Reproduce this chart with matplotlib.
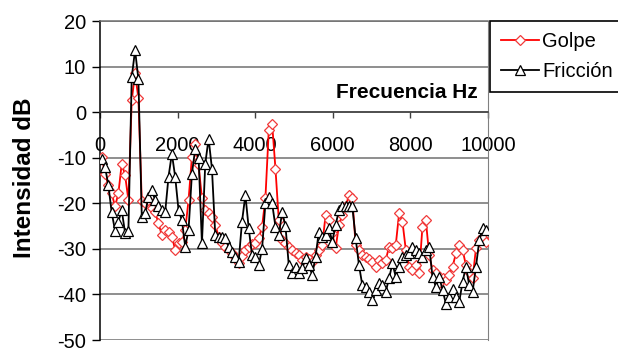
import matplotlib
matplotlib.use("Agg")
import matplotlib.pyplot as plt

plt.rcParams['font.family'] = ['Liberation Sans', 'DejaVu Sans']

freq_hz = [43, 129, 215, 301, 388, 474, 560, 646, 732, 818, 904, 990, 1077, 1163,
           1249, 1335, 1421, 1507, 1593, 1680, 1766, 1852, 1938, 2024, 2110, 2196,
           2282, 2369, 2455, 2541, 2627, 2713, 2799, 2885, 2971, 3058, 3144, 3230,
           3316, 3402, 3488, 3574, 3660, 3747, 3833, 3919, 4005, 4091, 4177, 4263,
           4350, 4436, 4522, 4608, 4694, 4780, 4866, 4952, 5039, 5125, 5211, 5297,
           5383, 5469, 5555, 5641, 5728, 5814, 5900, 5986, 6072, 6158, 6244, 6330,
           6417, 6503, 6589, 6675, 6761, 6847, 6933, 7020, 7106, 7192, 7278, 7364,
           7450, 7536, 7622, 7709, 7795, 7881, 7967, 8053, 8139, 8225, 8311, 8398,
           8484, 8570, 8656, 8742, 8828, 8914, 9001, 9087, 9173, 9259, 9345, 9431,
           9517, 9603, 9690, 9776, 9862, 9948]

golpe = [-9.8, -13.5, -16.0, -17.8, -20.7, -17.8, -11.3, -13.8, -19.3, 2.6,
         8.5, 3.0, -19.6, -20.0, -19.3, -21.1, -21.9, -24.4, -27.0, -25.9,
         -26.2, -27.3, -30.2, -28.8, -28.5, -25.9, -19.3, -9.8, -6.9, -11.6,
         -18.9, -21.5, -22.2, -22.9, -24.8, -27.3, -28.8, -29.5, -30.2, -31.0,
         -31.7, -33.2, -31.5, -30.2, -29.5, -29.0, -28.8, -27.7, -25.1, -18.9,
         -3.9, -2.5, -12.4, -23.7, -28.1, -28.8, -29.5, -30.2, -31.0, -31.4,
         -32.5, -31.7, -32.3, -32.8, -31.4, -30.2, -29.2, -22.6, -23.7, -26.6,
         -29.9, -24.8, -22.6, -20.7, -18.2, -18.9, -29.2, -30.2, -31.4, -31.7,
         -32.3, -32.8, -33.9, -32.5, -33.2, -32.5, -29.5, -29.9, -29.2, -22.2,
         -24.0, -30.2, -33.9, -34.6, -33.6, -35.4, -25.1, -23.7, -31.4, -34.6,
         -35.4, -37.6, -36.5, -36.9, -35.7, -33.9, -31.0, -29.2, -30.2, -33.6,
         -35.0, -36.5, -29.9, -28.1, -27.7, -28.5]

friccion = [-10.2, -12.0, -16.0, -22.0, -26.0, -24.0, -21.5, -26.5, -26.0, 7.7,
            13.6, 7.2, -23.0, -22.2, -18.6, -17.1, -19.3, -20.5, -21.5, -21.9,
            -14.2, -9.1, -14.2, -21.5, -23.7, -29.5, -25.9, -13.5, -8.0, -10.0,
            -28.8, -11.3, -5.8, -12.4, -27.0, -27.3, -27.3, -27.7, -29.5, -30.6,
            -31.7, -32.8, -24.0, -18.2, -25.5, -31.4, -31.7, -33.6, -30.0, -20.0,
            -18.6, -20.0, -25.1, -27.0, -21.9, -25.0, -33.6, -35.4, -33.9, -35.4,
            -34.3, -32.1, -33.6, -35.7, -31.7, -26.2, -27.3, -27.0, -25.5, -28.4,
            -24.8, -21.5, -20.7, -20.7, -20.7, -20.7, -27.7, -33.6, -38.0, -38.3,
            -39.4, -41.2, -39.0, -37.6, -38.0, -39.4, -36.5, -33.2, -36.1, -33.9,
            -31.7, -31.4, -31.0, -29.5, -30.2, -31.0, -31.7, -30.2, -29.5, -36.1,
            -38.3, -36.1, -39.0, -42.0, -40.5, -38.7, -40.5, -41.6, -37.2, -33.9,
            -38.0, -39.4, -33.9, -28.1, -25.5, -25.9]

x_ticks = [0, 2000, 4000, 6000, 8000, 10000]
y_ticks = [20, 10, 0, -10, -20, -30, -40, -50]

fig = plt.figure(figsize=(6.18, 3.49), dpi=100)
ax = fig.add_axes([100 / 618, 9 / 349, 388 / 618, 319 / 349])

ax.plot(freq_hz, golpe, color='#ff0000', lw=1.3, marker='D', ms=4.8,
        mfc='white', mec='#f03a3a', mew=0.9, label='Golpe', zorder=3, clip_on=True)
ax.plot(freq_hz, friccion, color='#000000', lw=1.3, marker='^', ms=7,
        mfc='white', mec='#000000', mew=0.9, label='Fricción', zorder=4, clip_on=True)

ax.set_xlim(0, 10000)
ax.set_ylim(-50, 20)
ax.set_xticks(x_ticks)
ax.set_yticks(y_ticks)
ax.set_xticklabels([str(v) for v in x_ticks])
ax.set_yticklabels([str(v) for v in y_ticks])

ax.grid(axis='y', color='#707070', lw=1.1, zorder=1)
ax.grid(axis='x', visible=False)
ax.spines['bottom'].set_position(('data', 0))
ax.spines['bottom'].set_color('#404040')
ax.spines['bottom'].set_linewidth(1.1)
ax.spines['left'].set_color('#000000')
ax.spines['left'].set_linewidth(1.1)
ax.spines['right'].set_color('#808080')
ax.spines['top'].set_color('#707070')
ax.spines['top'].set_linewidth(1.1)

ax.tick_params(axis='x', direction='out', length=4.5, width=1, color='#404040',
               labelsize=14.5, pad=13)
ax.tick_params(axis='y', direction='out', length=6, width=1, labelsize=14.5, pad=4)

ax.text(0.974, 0.777, 'Frecuencia Hz', transform=ax.transAxes, ha='right',
        va='center', fontsize=15, fontweight='bold')
fig.text(24.7 / 618, 1 - 178 / 349, 'Intensidad dB', rotation=90, ha='center',
         va='center', fontsize=17.5, fontweight='bold')

leg = fig.legend(loc='upper left', bbox_to_anchor=(490 / 618, 1 - 21 / 349),
                 borderaxespad=0, fontsize=14.5, frameon=True, fancybox=False,
                 edgecolor='#000000', framealpha=1, handlelength=1.9,
                 handletextpad=0.15, labelspacing=0.55, borderpad=0.55)
leg.get_frame().set_linewidth(1.2)

fig.savefig('out.png', dpi=100)
